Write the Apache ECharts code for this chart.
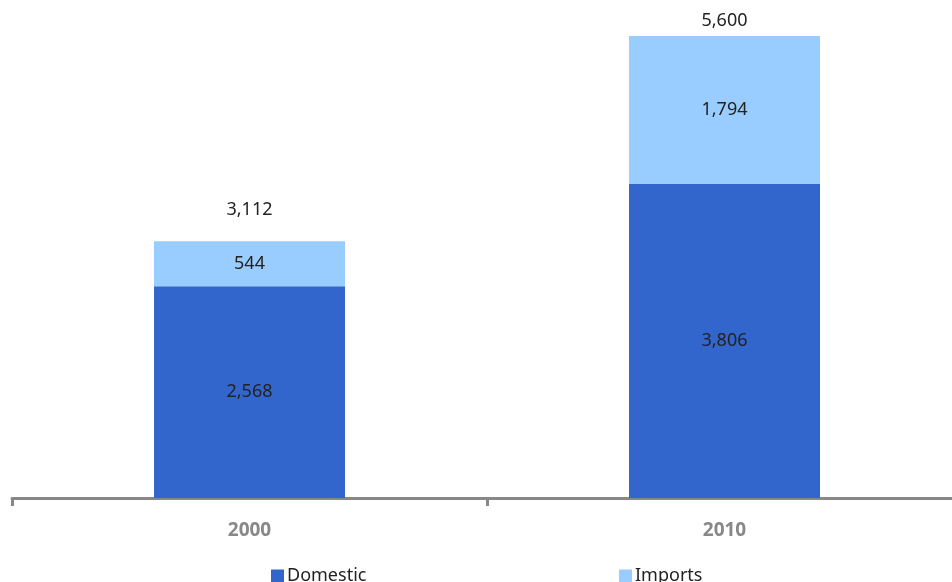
<!DOCTYPE html>
<html>
<head>
<meta charset="utf-8">
<script src="https://cdn.jsdelivr.net/npm/echarts@6/dist/echarts.min.js"></script>
<style>
  html, body { margin: 0; padding: 0; background: #fff; }
  #chart { width: 952px; height: 582px; }
</style>
</head>
<body>
<div id="chart"></div>
<script>
// Market volume by source, stacked per year
const years = ['2000', '2010'];
const domestic = [2568, 3806];
const imports = [544, 1794];
const totals = [3112, 5600];

const FONT = '"Noto Sans", "DejaVu Sans", sans-serif';
const fmt = v => Number(v).toLocaleString('en-US');

// gap between each bar top and its total label
const totalLabelGap = [22, 6];

const legendText = { fontSize: 18, color: '#222', fontFamily: FONT, padding: [0, 0, 0, -2] };

const chart = echarts.init(document.getElementById('chart'));
chart.setOption({
  animation: false,
  textStyle: { fontFamily: FONT },
  // the plot runs past the right edge, so the last category boundary is off-canvas
  grid: { left: 12, width: 950, top: 3, bottom: 84, outerBoundsMode: 'none', containLabel: false },
  legend: [
    {
      data: ['Domestic'], left: 271, top: 567, padding: 0,
      itemWidth: 13, itemHeight: 13, itemGap: 0, icon: 'rect',
      textStyle: legendText
    },
    {
      data: ['Imports'], left: 619, top: 567, padding: 0,
      itemWidth: 13, itemHeight: 13, itemGap: 0, icon: 'rect',
      textStyle: legendText
    }
  ],
  xAxis: {
    type: 'category',
    data: years,
    axisLine: { lineStyle: { color: '#888', width: 3 } },
    axisTick: { show: true, length: 8, lineStyle: { color: '#888', width: 3 } },
    axisLabel: { color: '#888', fontWeight: 'bold', fontSize: 19, margin: 23, fontFamily: FONT }
  },
  yAxis: {
    type: 'value', min: 0, max: 6000, show: false,
    splitLine: { show: false }
  },
  series: [
    {
      name: 'Domestic', type: 'bar', stack: 'total', barWidth: 191,
      data: domestic,
      itemStyle: { color: '#3366CC' },
      label: { show: true, position: 'inside', color: '#222', fontSize: 18, fontFamily: FONT, formatter: p => fmt(p.value) }
    },
    {
      name: 'Imports', type: 'bar', stack: 'total', barWidth: 191,
      data: imports,
      itemStyle: { color: '#99CCFF' },
      label: { show: true, position: 'inside', color: '#222', fontSize: 18, fontFamily: FONT, formatter: p => fmt(p.value) }
    },
    {
      name: 'Total', type: 'bar', stack: 'total', barWidth: 191,
      data: totals.map((t, i) => ({
        value: 0,
        label: { distance: totalLabelGap[i] }
      })),
      itemStyle: { color: 'transparent' },
      label: {
        show: true, position: 'top', color: '#222', fontSize: 18, fontFamily: FONT,
        formatter: p => fmt(totals[p.dataIndex])
      }
    }
  ]
});
</script>
</body>
</html>
